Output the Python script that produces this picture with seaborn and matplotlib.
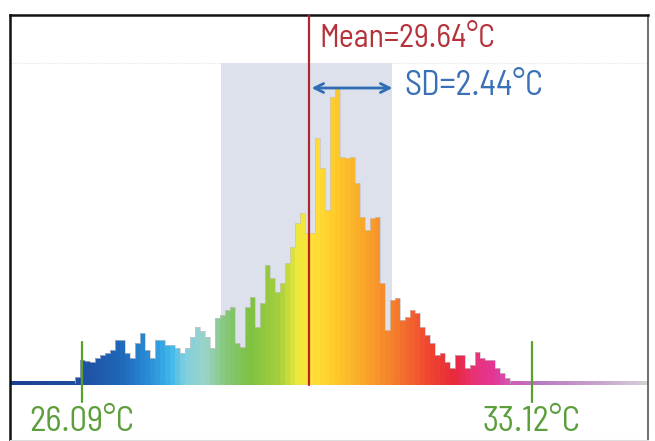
import numpy as np
import pandas as pd
import seaborn as sns
import matplotlib.pyplot as plt
from matplotlib.colors import LinearSegmentedColormap
from matplotlib.patches import Rectangle

# temperature histogram, counts (pixel heights)
bin_start = 25.985
bin_width = 0.078125
counts = [6, 23, 22, 21, 25, 28, 30, 33, 43, 43,
          30, 25, 40, 50, 33, 25, 43, 43, 38, 38,
          35, 30, 35, 46, 56, 52, 46, 35, 65, 68,
          73, 76, 40, 36, 76, 86, 56, 80, 118, 105,
          91, 100, 120, 136, 160, 170, 150, 150, 245, 215,
          173, 286, 295, 226, 225, 226, 200, 166, 153, 165,
          166, 100, 53, 83, 85, 63, 66, 73, 70, 56,
          48, 40, 28, 30, 21, 15, 28, 28, 15, 18,
          31, 25, 23, 23, 15, 10, 5]

t_low = 26.09
t_high = 33.12
t_mean = 29.64
t_sd = 2.44
sd_band = (28.27, 30.94)
sd_arrow_end = 30.99

low_label = "26.09°C"
high_label = "33.12°C"
mean_label = "Mean=29.64°C"
sd_label = "SD=2.44°C"

xlim = (24.97, 34.94)
ylim = (-57, 368)

# rainbow palette along the temperature axis
stops = [(0.0, "#1c3f94"), (0.110, "#1f4fa0"), (0.172, "#1f66b8"),
         (0.219, "#2a8ed6"), (0.251, "#3cb6ea"), (0.274, "#7fcfe0"),
         (0.306, "#98d4c8"), (0.337, "#86c87a"), (0.376, "#7dc142"),
         (0.423, "#a6cf3c"), (0.450, "#ebe83c"), (0.470, "#ffe23a"),
         (0.509, "#ffcc2a"), (0.556, "#f9a62a"), (0.603, "#f47c2c"),
         (0.658, "#ef4530"), (0.697, "#e8283c"), (0.729, "#e83278"),
         (0.760, "#e23696"), (0.784, "#d05ab4"), (0.831, "#b87ac2"),
         (0.925, "#c8a4cc"), (1.0, "#d4d0d6")]
rainbow = LinearSegmentedColormap.from_list("rainbow_t", stops)


def tcolor(t):
    return rainbow((t - xlim[0]) / (xlim[1] - xlim[0]))


sns.set_style("white")
plt.rcParams['font.family'] = ['Barlow Semi Condensed', 'DejaVu Sans']

fig = plt.figure(figsize=(6.55, 4.41), dpi=100)
ax = fig.add_axes([10 / 655, 1 / 441, 638 / 655, 425 / 441])

edges = [bin_start + bin_width * i for i in range(len(counts) + 1)]
hist = pd.DataFrame({"temp": [(edges[i] + edges[i + 1]) / 2 for i in range(len(counts))],
                     "count": counts})
sns.histplot(data=hist, x="temp", weights="count", bins=edges, ax=ax,
             alpha=1, linewidth=0, zorder=3)
for p in ax.patches:
    p.set_facecolor(tcolor(p.get_x() + p.get_width() / 2))
    p.set_edgecolor("none")

# faint outline on the top of the steps
ax.stairs(counts, edges, color="#c9c4c8", lw=0.6, zorder=3.5, alpha=0.8)

# sd band and faint guide line
ax.add_patch(Rectangle((sd_band[0], 0), sd_band[1] - sd_band[0], 320,
                       facecolor="#dde1ec", edgecolor="none", zorder=1))
ax.axhline(320, color="#e8e8e8", lw=0.8, ls=(0, (1, 1)), zorder=0.5)

# coloured baseline strip
grad = np.linspace(0, 1, 600).reshape(1, -1)
ax.axhline(0, color="#cfcfcf", lw=1.2, zorder=1.5)
ax.imshow(grad, cmap=rainbow, extent=(xlim[0], xlim[1], -2.2, 1.2),
          aspect="auto", zorder=2, interpolation="bilinear")

# mean line
ax.plot([t_mean, t_mean], [-2, ylim[1]], color="#b3262e", lw=1.6, zorder=5)
ax.text(29.81, 344, mean_label, color="#b5323a", fontsize=23,
        va="center", ha="left", zorder=6)

# sd arrow
ax.annotate("", xy=(sd_arrow_end, 295), xytext=(t_mean, 295),
            arrowprops=dict(arrowstyle="<->", color="#2e6db4", lw=2,
                            mutation_scale=16), zorder=6)
ax.text(31.14, 297, sd_label, color="#3a70b8", fontsize=24.5,
        va="center", ha="left", zorder=6)

# range markers
for t, lab in [(t_low, low_label), (t_high, high_label)]:
    ax.plot([t, t], [-19, 41], color="#5aa02c", lw=1.6, zorder=6)
    ax.text(t, -39, lab, color="#5d9e3c", fontsize=25, ha="center", va="center")

ax.set_xlim(*xlim)
ax.set_ylim(*ylim)
ax.set_xticks([])
ax.set_yticks([])
ax.set_xlabel("")
ax.set_ylabel("")
for side in ["top", "left"]:
    ax.spines[side].set_color("#111111")
    ax.spines[side].set_linewidth(1.8)
ax.spines["right"].set_color("#555555")
ax.spines["right"].set_linewidth(1.2)
ax.spines["bottom"].set_color("#dddddd")
ax.spines["bottom"].set_linewidth(0.8)

fig.savefig("out.png", dpi=100)
